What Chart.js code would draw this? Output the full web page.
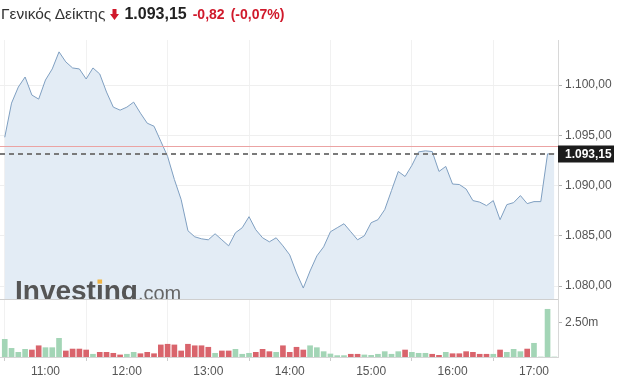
<!DOCTYPE html>
<html>
<head>
<meta charset="utf-8">
<script src="https://cdn.jsdelivr.net/npm/chart.js@4.4.0/dist/chart.umd.min.js"></script>
<style>
body { margin: 0; background: #fff; font-family: "Liberation Sans", Arial, sans-serif; }
#wrap { position: relative; width: 621px; height: 380px; overflow: hidden; }
#title { position: absolute; left: 1px; top: 4px; line-height: 20px; white-space: nowrap; }
#title .name { font-size: 15.5px; color: #333; }
#title .arrow { display: inline-block; margin-left: 5px; vertical-align: -1px; }
#title .last { font-size: 16px; font-weight: bold; color: #222; margin-left: 5px; }
#title .chg { font-size: 14px; font-weight: bold; color: #d0192b; margin-left: 6px; }
canvas { position: absolute; left: 0; top: 0; }
</style>
</head>
<body>
<div id="wrap">
  <canvas id="myChart" width="621" height="380"></canvas>
  <div id="title">
    <span class="name">Γενικός Δείκτης</span><svg class="arrow" width="9" height="11" viewBox="0 0 9 11"><polygon points="2.5,0 6.5,0 6.5,5 9,5 4.5,11 0,5 2.5,5" fill="#d0192b"/></svg><span class="last">1.093,15</span><span class="chg">-0,82</span><span class="chg">(-0,07%)</span>
  </div>
</div>
<script>
// 5 minute points
const times = [
        "10:30", "10:35", "10:40", "10:45", "10:50", "10:55", "11:00", "11:05", "11:10", "11:15",
        "11:20", "11:25", "11:30", "11:35", "11:40", "11:45", "11:50", "11:55", "12:00", "12:05",
        "12:10", "12:15", "12:20", "12:25", "12:30", "12:35", "12:40", "12:45", "12:50", "12:55",
        "13:00", "13:05", "13:10", "13:15", "13:20", "13:25", "13:30", "13:35", "13:40", "13:45",
        "13:50", "13:55", "14:00", "14:05", "14:10", "14:15", "14:20", "14:25", "14:30", "14:35",
        "14:40", "14:45", "14:50", "14:55", "15:00", "15:05", "15:10", "15:15", "15:20", "15:25",
        "15:30", "15:35", "15:40", "15:45", "15:50", "15:55", "16:00", "16:05", "16:10", "16:15",
        "16:20", "16:25", "16:30", "16:35", "16:40", "16:45", "16:50", "16:55", "17:00", "17:05",
        "17:10", "17:15"
];
const prices = [
        1094.8, 1098.2, 1099.8, 1100.8, 1099.0, 1098.6, 1100.5, 1101.6, 1103.3, 1102.3,
        1101.7, 1101.6, 1100.6, 1101.7, 1101.1, 1099.3, 1097.8, 1097.5, 1097.8, 1098.3,
        1097.2, 1096.2, 1095.9, 1094.4, 1092.9, 1090.6, 1088.6, 1085.5, 1084.9, 1084.7,
        1084.6, 1085.2, 1084.6, 1084.0, 1085.3, 1085.8, 1086.9, 1085.6, 1084.8, 1084.4,
        1084.8, 1084.0, 1083.1, 1081.3, 1079.8, 1081.5, 1083.0, 1083.9, 1085.4, 1085.8,
        1086.2, 1085.4, 1084.6, 1085.0, 1086.3, 1086.6, 1087.6, 1089.5, 1091.4, 1090.9,
        1092.0, 1093.35, 1093.45, 1093.38, 1091.4, 1091.9, 1090.15, 1090.1, 1089.65, 1088.5,
        1088.35, 1088.0, 1088.5, 1086.6, 1088.1, 1088.3, 1089.0, 1088.2, 1088.4, 1088.4,
        1093.15, 1093.15
];
// volume in millions
const volumes = [
        1.29, 0.63, 0.34, 0.56, 0.51, 0.82, 0.68, 0.68, 1.36, 0.44,
        0.58, 0.58, 0.51, 0.20, 0.34, 0.34, 0.27, 0.15, 0.20, 0.34,
        0.24, 0.34, 0.24, 0.88, 0.93, 0.88, 0.44, 0.93, 0.82, 0.82,
        0.71, 0.27, 0.44, 0.44, 0.56, 0.20, 0.27, 0.34, 0.56, 0.39,
        0.34, 0.82, 0.34, 0.71, 0.51, 0.82, 0.68, 0.39, 0.22, 0.10,
        0.10, 0.20, 0.20, 0.15, 0.12, 0.20, 0.39, 0.20, 0.39, 0.51,
        0.34, 0.27, 0.27, 0.20, 0.12, 0.34, 0.24, 0.24, 0.39, 0.34,
        0.20, 0.20, 0.20, 0.51, 0.34, 0.56, 0.39, 0.58, 1.00, 0,
        3.48, 0
];
const prevClose = 1093.97;
const lastPrice = 1093.15;
const priceTicks = [1080, 1085, 1090, 1095, 1100];
const volumeTicks = [2.5];
const hourTicks = ["11:00", "12:00", "13:00", "14:00", "15:00", "16:00", "17:00"];

function toMin(t) {
        let p = t.split(':');
        return parseInt(p[0]) * 60 + parseInt(p[1]);
}
function toTime(m) {
        let h = Math.floor(m / 60), mm = Math.round(m % 60);
        return h + ':' + (mm < 10 ? '0' + mm : mm);
}
// 1.093,15 style
function fmtPrice(v) {
        let s = v.toFixed(2).split('.');
        let int = s[0].replace(/\B(?=(\d{3})+(?!\d))/g, '.');
        return int + ',' + s[1];
}

const upColor = '#a3d5b6';
const downColor = '#d9646c';
const barColors = prices.map((p, i) => (i == 0 || p >= prices[i - 1]) ? upColor : downColor);

const overlay = {
        id: 'overlay',
        afterDatasetsDraw(chart) {
                const ctx = chart.ctx;
                const area = chart.chartArea;
                const y = chart.scales.y;
                // watermark
                ctx.save();
                ctx.beginPath();
                ctx.rect(area.left, y.top, area.right - area.left, y.bottom - y.top);
                ctx.clip();
                ctx.textBaseline = 'alphabetic';
                ctx.textAlign = 'left';
                ctx.font = 'bold 28px "Liberation Sans", Arial, sans-serif';
                ctx.fillStyle = '#555';
                let bx = 15, by = y.bottom + 1;
                ctx.fillText('Investing', bx, by);
                let wInv = ctx.measureText('Investing').width;
                let ix = bx + ctx.measureText('Invest').width;
                let iw = ctx.measureText('i').width;
                ctx.fillStyle = '#f0b443';
                ctx.fillRect(ix + iw / 2 - 2.3, by - 20.5, 4.6, 4.2);
                ctx.font = '20px "Liberation Sans", Arial, sans-serif';
                ctx.fillStyle = '#666';
                ctx.fillText('.com', bx + wInv, by);
                ctx.restore();

                ctx.save();
                // previous close
                let yp = Math.round(y.getPixelForValue(prevClose)) + 0.5;
                ctx.strokeStyle = '#eba3a3';
                ctx.lineWidth = 1;
                ctx.beginPath();
                ctx.moveTo(area.left, yp);
                ctx.lineTo(area.right, yp);
                ctx.stroke();
                // last price
                let yl = Math.round(y.getPixelForValue(lastPrice));
                ctx.strokeStyle = '#7a7a7a';
                ctx.lineWidth = 2;
                ctx.setLineDash([5, 4]);
                ctx.beginPath();
                ctx.moveTo(area.left, yl);
                ctx.lineTo(area.right, yl);
                ctx.stroke();
                ctx.setLineDash([]);
                // panel separator
                ctx.strokeStyle = '#cfcfcf';
                ctx.lineWidth = 1;
                ctx.beginPath();
                ctx.moveTo(area.left, Math.round(y.bottom) + 0.5);
                ctx.lineTo(area.right, Math.round(y.bottom) + 0.5);
                ctx.stroke();
                ctx.restore();
        },
        afterDraw(chart) {
                const ctx = chart.ctx;
                const y = chart.scales.y;
                let yl = Math.round(y.getPixelForValue(lastPrice));
                ctx.save();
                ctx.fillStyle = '#1c1c1c';
                ctx.fillRect(y.left, yl - 8.5, 56, 17);
                ctx.fillStyle = '#fff';
                ctx.font = 'bold 12px "Liberation Sans", Arial, sans-serif';
                ctx.textBaseline = 'middle';
                ctx.textAlign = 'left';
                ctx.fillText(fmtPrice(lastPrice), y.left + 7, yl + 0.5);
                ctx.restore();
        }
};

const data = {
        datasets: [{
                type: 'line',
                data: times.map((t, i) => ({ x: toMin(t), y: prices[i] })),
                yAxisID: 'y',
                borderColor: '#7f9fc1',
                borderWidth: 1,
                backgroundColor: '#e3ecf5',
                fill: 'start',
                pointRadius: 0,
                tension: 0
        }, {
                type: 'bar',
                data: times.map((t, i) => ({ x: toMin(t), y: volumes[i] })),
                yAxisID: 'yv',
                backgroundColor: barColors,
                barThickness: 5
        }]
};

const tickFont = { family: '"Liberation Sans", Arial, sans-serif', size: 12 };

const config = {
        type: 'line',
        data: data,
        plugins: [overlay],
        options: {
                responsive: false,
                animation: false,
                devicePixelRatio: 1,
                layout: { padding: { top: 40, left: 0, right: 0, bottom: -1.4 } },
                plugins: { legend: { display: false }, tooltip: { enabled: false } },
                scales: {
                        x: {
                                type: 'linear',
                                offset: false,
                                min: 626.5,
                                max: 1037.7,
                                afterBuildTicks: s => { s.ticks = hourTicks.map(t => ({ value: toMin(t) })); },
                                grid: { color: '#f1f1f1', tickColor: '#cccccc', tickLength: 4 },
                                border: { color: '#d5d5d5' },
                                ticks: { autoSkip: false, maxRotation: 0, padding: 3, color: '#555', font: tickFont, callback: v => toTime(v) }
                        },
                        y: {
                                position: 'right',
                                stack: 'panels',
                                stackWeight: 259,
                                min: 1078.71,
                                max: 1104.48,
                                afterBuildTicks: s => { s.ticks = priceTicks.map(v => ({ value: v })); },
                                afterFit: s => { s.width = 63; },
                                grid: { color: '#efefef', tickColor: '#b5b5b5', tickLength: 4 },
                                border: { color: '#d8d8d8' },
                                ticks: { padding: 3, color: '#555', font: tickFont, callback: v => fmtPrice(v) }
                        },
                        yv: {
                                position: 'right',
                                stack: 'panels',
                                stackWeight: 58,
                                min: 0,
                                max: 4.23,
                                afterBuildTicks: s => { s.ticks = volumeTicks.map(v => ({ value: v })); },
                                afterFit: s => { s.width = 63; },
                                grid: { drawOnChartArea: false, tickColor: '#b5b5b5', tickLength: 4 },
                                border: { color: '#d8d8d8' },
                                ticks: { padding: 3, color: '#555', font: tickFont, callback: v => v.toFixed(2) + 'm' }
                        }
                }
        }
};

const myChart = new Chart(document.getElementById('myChart'), config);
</script>
</body>
</html>
